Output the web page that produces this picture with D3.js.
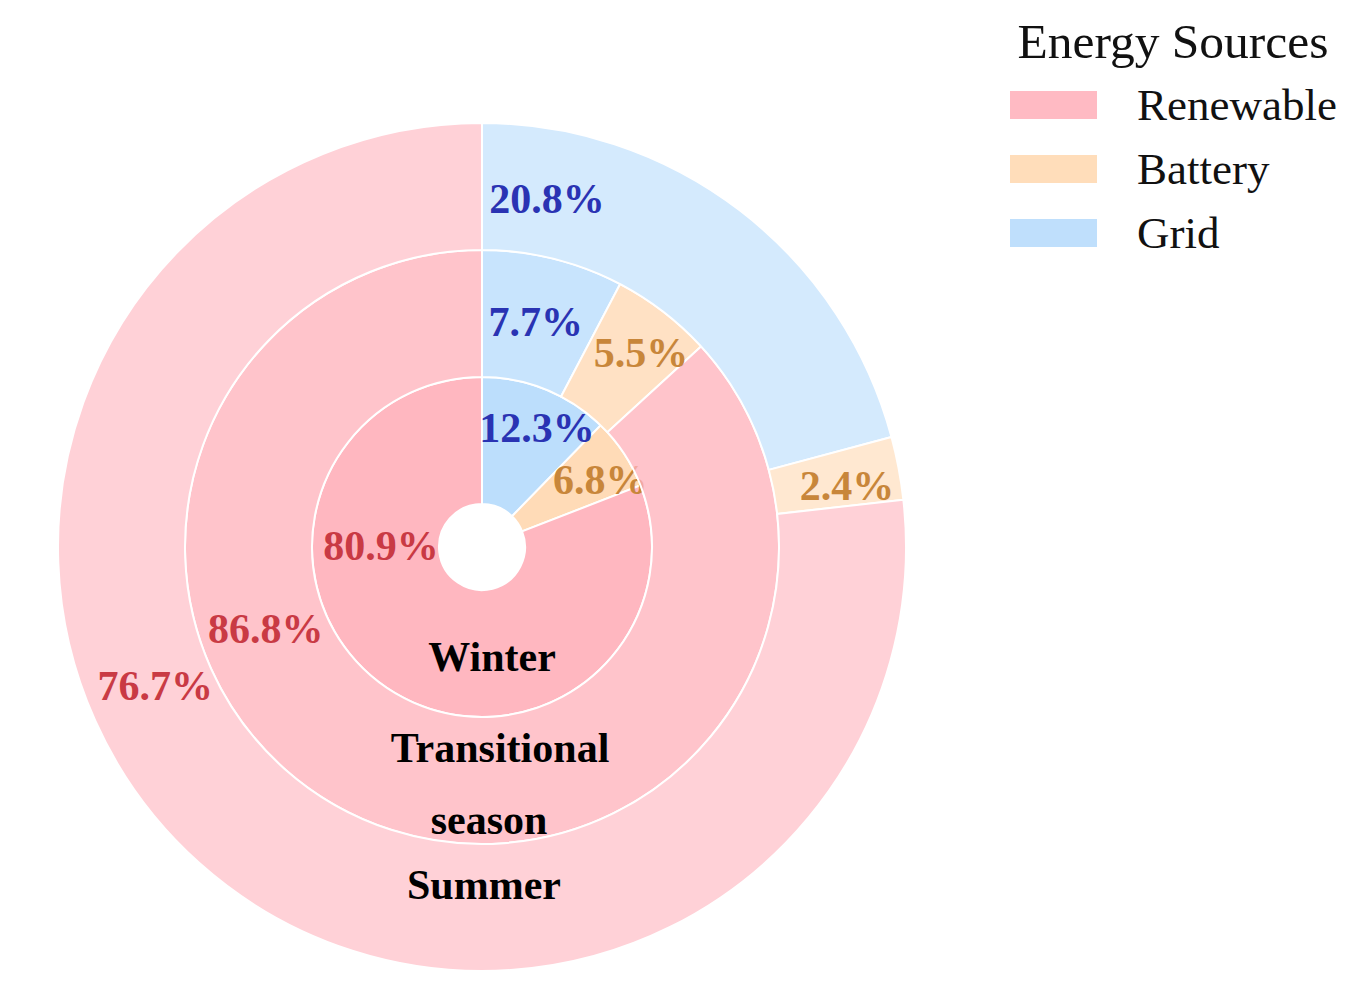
<!DOCTYPE html>
<html>
  <head>
    <meta charset="utf-8">
    <title>Energy Sources by Season</title>
    <script src="https://d3js.org/d3.v7.min.js"></script>
    <style>
      body { margin: 0; background: #fff; }
      svg { display: block; }
    </style>
  </head>
  <body>
    <svg width="1362" height="993" font-family="'Liberation Serif', 'Times New Roman', serif"></svg>
    <script>
      // data
      var sources = ["Grid", "Battery", "Renewable"];
      var legendOrder = ["Renewable", "Battery", "Grid"];
      var seasons = ["Winter", "Transitional season", "Summer"];
      var winter = [12.3, 6.8, 80.9];
      var transitional = [7.7, 5.5, 86.8];
      var summer = [20.8, 2.4, 76.7];

      // label placement (angle in degrees clockwise from top, radius in px)
      var labelAngles = [[24.8, 60.4, 271], [13.4, 39.3, 249.4], [10.6, 80.5, 247]];
      var labelRadii = [[131, 136, 101], [232, 251, 231], [354, 370, 355]];

      var fills = { Renewable: "#ffb3bd", Battery: "#ffd9b3", Grid: "#b8dcfc" };
      var textColors = { Renewable: "#c93a44", Battery: "#c8863a", Grid: "#2a33b3" };
      var ringOpacity = [0.95, 0.78, 0.6];
      var radii = [43, 170, 297, 424];

      var svg = d3.select("svg");
      var cx = 482, cy = 547;
      var g = svg.append("g").attr("transform", "translate(" + cx + "," + cy + ")");

      var pie = d3.pie().sort(null).value(function (d) { return d; });
      var rings = [winter, transitional, summer];

      rings.forEach(function (vals, i) {
        var arc = d3.arc().innerRadius(radii[i]).outerRadius(radii[i + 1]);
        var arcs = pie(vals);
        g.append("g").selectAll("path")
          .data(arcs)
          .enter()
          .append("path")
          .attr("d", arc)
          .attr("fill", function (d, j) { return fills[sources[j]]; })
          .attr("fill-opacity", ringOpacity[i])
          .attr("stroke", "#fff")
          .attr("stroke-width", 2);

        g.append("g").selectAll("text")
          .data(arcs)
          .enter()
          .append("text")
          .attr("x", function (d, j) { return Math.sin(labelAngles[i][j] * Math.PI / 180) * labelRadii[i][j]; })
          .attr("y", function (d, j) { return -Math.cos(labelAngles[i][j] * Math.PI / 180) * labelRadii[i][j]; })
          .attr("dy", "0.34em")
          .attr("text-anchor", "middle")
          .attr("font-size", "42px")
          .attr("font-weight", "bold")
          .attr("fill", function (d, j) { return textColors[sources[j]]; })
          .text(function (d) { return d.data.toFixed(1) + "%"; });
      });

      // season names
      var seasonLines = [["Winter"], ["Transitional", "season"], ["Summer"]];
      var seasonPos = [[[10, 110]], [[18, 201], [7, 273]], [[2, 338]]];
      seasonLines.forEach(function (lines, i) {
        lines.forEach(function (t, k) {
          g.append("text")
            .attr("x", seasonPos[i][k][0])
            .attr("y", seasonPos[i][k][1])
            .attr("dy", "0.34em")
            .attr("text-anchor", "middle")
            .attr("font-size", "42px")
            .attr("font-weight", "bold")
            .attr("fill", "#000")
            .text(t);
        });
      });

      // legend
      var legend = svg.append("g");
      legend.append("text")
        .attr("x", 1173)
        .attr("y", 58)
        .attr("text-anchor", "middle")
        .attr("font-size", "49.5px")
        .attr("fill", "#111")
        .text("Energy Sources");
      var items = legend.selectAll("g.item")
        .data(legendOrder)
        .enter()
        .append("g")
        .attr("class", "item")
        .attr("transform", function (d, i) { return "translate(1010," + (91 + i * 64) + ")"; });
      items.append("rect")
        .attr("width", 87)
        .attr("height", 28)
        .attr("fill", function (d) { return fills[d]; })
        .attr("fill-opacity", 0.9);
      items.append("text")
        .attr("x", 127)
        .attr("y", 14)
        .attr("dy", "0.34em")
        .attr("font-size", "45px")
        .attr("fill", "#111")
        .text(function (d) { return d; });
    </script>
  </body>
</html>
